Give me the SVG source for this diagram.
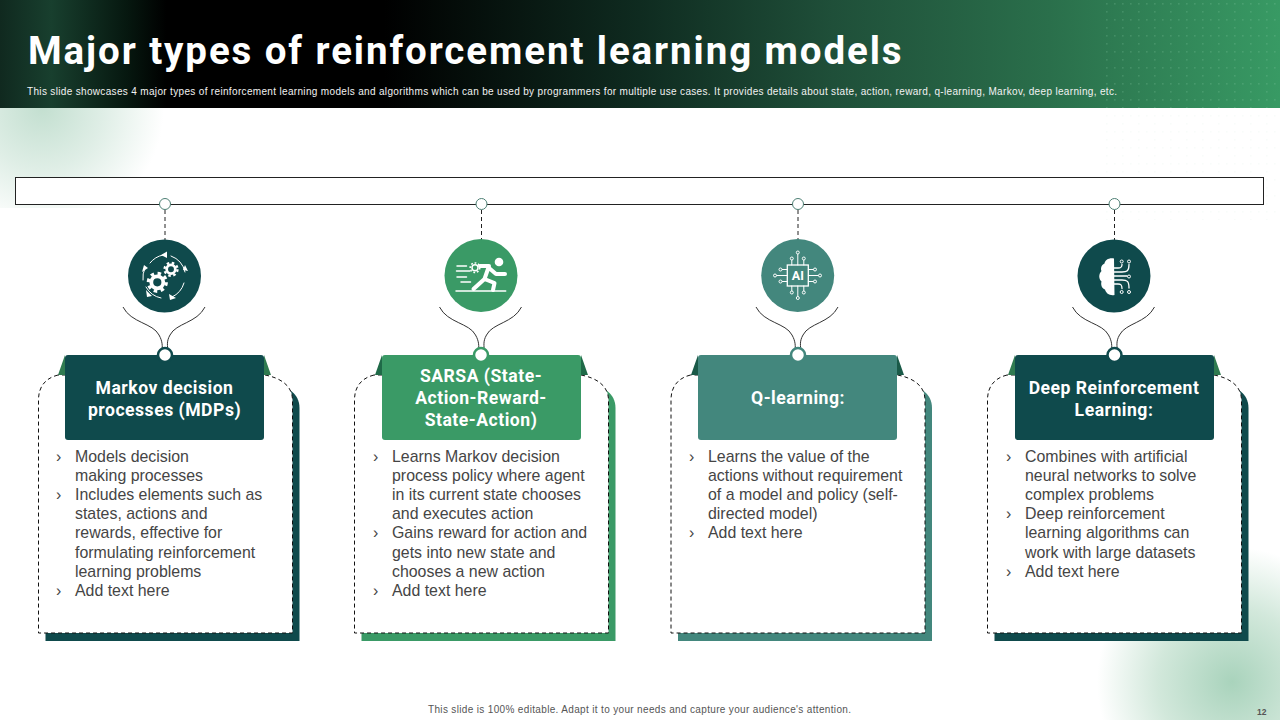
<svg xmlns="http://www.w3.org/2000/svg" xmlns:xlink="http://www.w3.org/1999/xlink" width="1280" height="720" viewBox="0 0 1280 720">
<style>
.ttl{font:700 38.500px Roboto,"Liberation Sans",sans-serif;fill:#fff;letter-spacing:1.9px}
.sub{font:400 10px "Liberation Sans",Arial,sans-serif;fill:#f2f2f2}
.foot{font:400 10px "Liberation Sans",Arial,sans-serif;fill:#555}
.pg{font:700 8.5px "Liberation Sans",Arial,sans-serif;fill:#555}
.hd{font:700 17.6px Roboto,"Liberation Sans",sans-serif;fill:#fff;text-anchor:middle;letter-spacing:.5px}
.b{font:400 15.9px "Liberation Sans",Arial,sans-serif;fill:#454545}
.dash{fill:#fff;stroke:#111;stroke-width:1;stroke-dasharray:4 3}
.vd{stroke:#222;stroke-width:1;stroke-dasharray:4 3;fill:none}
.cv{stroke:#333;stroke-width:1;fill:none}
.top{fill:#fff;stroke:#4d7f74;stroke-width:1}
.ic{fill:none;stroke:#fff;stroke-linecap:round;stroke-linejoin:round}
.wf{fill:#fff}
</style>
<defs>
<linearGradient id="hg" x1="0" x2="1" y1="0" y2="0">
<stop offset="0" stop-color="#10291f"/><stop offset=".04" stop-color="#183f2e"/><stop offset=".1" stop-color="#06170f"/><stop offset=".13" stop-color="#000"/><stop offset=".3" stop-color="#000"/><stop offset=".5" stop-color="#0f2b20"/><stop offset=".65" stop-color="#1f4f39"/><stop offset=".82" stop-color="#2a6f4b"/><stop offset="1" stop-color="#389a64"/>
</linearGradient>
<radialGradient id="gl" gradientUnits="userSpaceOnUse" cx="42" cy="108" r="122"><stop offset="0" stop-color="#c3dfd0"/><stop offset=".5" stop-color="#dfeee6"/><stop offset="1" stop-color="#fff"/></radialGradient>
<radialGradient id="gr" gradientUnits="userSpaceOnUse" cx="1232" cy="682" r="135"><stop offset="0" stop-color="#a9d3bc"/><stop offset=".55" stop-color="#d2e8db"/><stop offset="1" stop-color="#fff"/></radialGradient>
<pattern id="dots" width="16" height="16" patternUnits="userSpaceOnUse"><rect x="2" y="3" width="1.6" height="1.6" fill="#8fd0aa"/><rect x="10" y="3" width="1.6" height="1.6" fill="#8fd0aa"/><rect x="2" y="11" width="1.6" height="1.6" fill="#8fd0aa"/></pattern>
<g id="gearA"><circle r="6" fill="none" stroke="#fff" stroke-width="3.8"/><circle r="9" fill="none" stroke="#fff" stroke-width="3.2" stroke-dasharray="3.5 3.57"/></g>
<path id="card" d="M58 375C46 378 38.500 386 38.500 400V633H292.500V400C292.500 386 281 378 265 375Z"/>
<path id="curves" d="M123 307C131 323 153 323 159 335C163 342 162 346 162.500 351M205 307C197 323 176 323 170 335C166 342 168 346 167.500 351"/>
</defs>

<rect width="1280" height="720" fill="#fff"/>
<rect x="0" y="108" width="170" height="100" fill="url(#gl)"/>
<rect x="1090" y="540" width="190" height="180" fill="url(#gr)"/>
<rect x="1100" y="110" width="180" height="110" fill="url(#dots)" opacity=".06"/>

<g id="banner">
<rect width="1280" height="108" fill="url(#hg)"/>
<rect x="1100" y="0" width="180" height="108" fill="url(#dots)" opacity=".22"/>
<text class="ttl" x="28" y="64">Major types of reinforcement learning models</text>
<text class="sub" x="27" y="95" textLength="1090" lengthAdjust="spacing">This slide showcases 4 major types of reinforcement learning models and algorithms which can be used by programmers for multiple use cases. It provides details about state, action, reward, q-learning, Markov, deep learning, etc.</text>
</g>

<g id="bar"><rect x="15.500" y="177.500" width="1248" height="27" fill="#fff" stroke="#222" stroke-width="1"/></g>

<g id="connectors">
<path class="vd" d="M165 210V240M481.500 210V240M798 210V240M1114.500 210V240"/>
<use href="#curves" class="cv"/>
<use href="#curves" class="cv" x="316.500"/>
<use href="#curves" class="cv" x="633"/>
<use href="#curves" class="cv" x="949.500"/>
</g>

<g id="node-mdp">
<circle class="top" cx="165" cy="204" r="5.500"/>
<use href="#card" x="7" y="8" fill="#0f4a4c"/>
<use href="#card" class="dash"/>
<path d="M65 355L58 375H65Z" fill="#2f7a50"/><path d="M264 355L271 375H264Z" fill="#2f7a50"/>
<rect x="65" y="355" width="199" height="85" rx="3" fill="#0f4a4c"/>
<circle cx="165" cy="355" r="7" fill="#fff" stroke="#0f4a4c" stroke-width="2.500"/>
<circle cx="164.500" cy="276" r="36.500" fill="#0f4a4c"/>
<g>
<use href="#gearA" transform="translate(157.300 282.300)"/>
<use href="#gearA" transform="translate(171 269.300) scale(.72)"/>
<path class="ic" stroke-width="1" d="M150 263A22 22 0 0 1 163 255M171 256A22 22 0 0 1 185 272M184 283A22 22 0 0 1 172 297M161 298A22 22 0 0 1 146 287M143 280A22 22 0 0 1 145 268"/>
<path class="wf" d="M161 255L167 251.500V258ZM183 270L188 271 185 265ZM169 294L176 298 170 300ZM146 290L152 296 147 297ZM142 272L148 268 144 265Z"/>
</g>
<text class="hd" x="164.500" y="393.500">Markov decision</text>
<text class="hd" x="164.500" y="415.500">processes (MDPs)</text>
<text class="b" x="56" y="462">›</text><text class="b" x="75" y="462">Models decision</text>
<text class="b" x="75" y="481">making processes</text>
<text class="b" x="56" y="500">›</text><text class="b" x="75" y="500">Includes elements such as</text>
<text class="b" x="75" y="519">states, actions and</text>
<text class="b" x="75" y="538">rewards, effective for</text>
<text class="b" x="75" y="558">formulating reinforcement</text>
<text class="b" x="75" y="577">learning problems</text>
<text class="b" x="56" y="596">›</text><text class="b" x="75" y="596">Add text here</text>
</g>

<g id="node-sarsa">
<circle class="top" cx="481.500" cy="204" r="5.500"/>
<g transform="translate(316 0)"><use href="#card" x="7" y="8" fill="#3a9a66"/><use href="#card" class="dash"/></g>
<path d="M382 355L375 375H382Z" fill="#1f6a48"/><path d="M581 355L588 375H581Z" fill="#1f6a48"/>
<rect x="382" y="355" width="199" height="85" rx="3" fill="#3a9a66"/>
<circle cx="481" cy="355" r="7" fill="#fff" stroke="#3a9a66" stroke-width="2.500"/>
<circle cx="481" cy="275.500" r="36.500" fill="#3a9a66"/>
<g>
<circle class="wf" cx="499" cy="262" r="4.300"/>
<path class="ic" stroke-width="1.500" d="M456 291H505.700M457 266H466.500M456.500 271H470M457 277H466.500M461 282H470.500"/>
<circle cx="475" cy="267.700" r="3" fill="none" stroke="#fff" stroke-width="1.500"/><circle cx="475" cy="267.700" r="4.800" fill="none" stroke="#fff" stroke-width="1.500" stroke-dasharray="1.800 1.800"/>
<path class="ic" stroke-width="4" d="M480 266H489L484.500 279L473.500 289M489 268L496 274H505M484.500 279L494.500 283L493 290"/>
</g>
<text class="hd" x="481" y="381.500">SARSA (State-</text>
<text class="hd" x="481" y="403.500">Action-Reward-</text>
<text class="hd" x="481" y="425.500">State-Action)</text>
<text class="b" x="373" y="462">›</text><text class="b" x="392" y="462">Learns Markov decision</text>
<text class="b" x="392" y="481">process policy where agent</text>
<text class="b" x="392" y="500">in its current state chooses</text>
<text class="b" x="392" y="519">and executes action</text>
<text class="b" x="373" y="538">›</text><text class="b" x="392" y="538">Gains reward for action and</text>
<text class="b" x="392" y="558">gets into new state and</text>
<text class="b" x="392" y="577">chooses a new action</text>
<text class="b" x="373" y="596">›</text><text class="b" x="392" y="596">Add text here</text>
</g>

<g id="node-q">
<circle class="top" cx="798" cy="204" r="5.500"/>
<g transform="translate(632.500 0)"><use href="#card" x="7" y="8" fill="#43877d"/><use href="#card" class="dash"/></g>
<path d="M698 355L691 375H698Z" fill="#1a5a48"/><path d="M897 355L904 375H897Z" fill="#1a5a48"/>
<rect x="698" y="355" width="199" height="85" rx="3" fill="#43877d"/>
<circle cx="798" cy="355" r="7" fill="#fff" stroke="#43877d" stroke-width="2.500"/>
<circle cx="797.700" cy="275.500" r="36.500" fill="#43877d"/>
<g>
<rect x="787.300" y="265" width="21" height="21" fill="none" stroke="#fff" stroke-width="1.300"/>
<path class="ic" stroke-width="1" d="M797.800 265V254M791.800 265V260L791.500 259M803.800 265V260M797.800 286V297M791.800 286V291M803.800 286V291M787.300 275.500H776M787.300 269.500H782M787.300 281.500H782M808.300 275.500H819M808.300 269.500H814M808.300 281.500H814"/>
<g fill="#43877d" stroke="#fff" stroke-width="1"><circle cx="797.800" cy="252.500" r="1.500"/><circle cx="791.800" cy="258.500" r="1.500"/><circle cx="803.800" cy="258.500" r="1.500"/><circle cx="797.800" cy="298" r="1.500"/><circle cx="791.800" cy="292.500" r="1.500"/><circle cx="803.800" cy="292.500" r="1.500"/><circle cx="775" cy="275.500" r="1.500"/><circle cx="780.500" cy="269.500" r="1.500"/><circle cx="780.500" cy="281.500" r="1.500"/><circle cx="820" cy="275.500" r="1.500"/><circle cx="815" cy="269.500" r="1.500"/><circle cx="815" cy="281.500" r="1.500"/></g>
<text x="797.800" y="280" font-family="Roboto,'Liberation Sans',sans-serif" font-weight="700" font-size="12.500" fill="#fff" text-anchor="middle">AI</text>
</g>
<text class="hd" x="798" y="403.500">Q-learning:</text>
<text class="b" x="689" y="462">›</text><text class="b" x="708" y="462">Learns the value of the</text>
<text class="b" x="708" y="481">actions without requirement</text>
<text class="b" x="708" y="500">of a model and policy (self-</text>
<text class="b" x="708" y="519">directed model)</text>
<text class="b" x="689" y="538">›</text><text class="b" x="708" y="538">Add text here</text>
</g>

<g id="node-deep">
<circle class="top" cx="1114.500" cy="204" r="5.500"/>
<g transform="translate(949 0)"><use href="#card" x="7" y="8" fill="#0f4a4c"/><use href="#card" class="dash"/></g>
<path d="M1015 355L1008 375H1015Z" fill="#2f7a50"/><path d="M1214 355L1221 375H1214Z" fill="#2f7a50"/>
<rect x="1015" y="355" width="199" height="85" rx="3" fill="#0f4a4c"/>
<circle cx="1114.500" cy="355" r="7" fill="#fff" stroke="#0f4a4c" stroke-width="2.500"/>
<circle cx="1114" cy="276" r="36.500" fill="#0f4a4c"/>
<g>
<path class="wf" d="M1114 258.500C1109 257.500 1105 260 1104.500 263.500C1101 265 1100.500 269 1101.500 271C1098.500 274 1098.500 279 1101.500 281.500C1100.500 285 1102 288.500 1105 289.500C1106 293.500 1110 296 1114.500 295Z"/>
<path class="ic" stroke="#cfe6e0" stroke-width="1.300" d="M1111 268H1118C1120 268 1122 268 1122 264.500M1111 272H1122C1127 272 1129 271 1129 264.500M1111 276H1127M1111 280H1122C1127 280 1129 281 1129 288M1111 284H1118C1120 284 1122 284 1122 288.500"/>
<g fill="none" stroke="#fff" stroke-width="1"><circle cx="1121.700" cy="261.500" r="1.500"/><circle cx="1129" cy="261.500" r="1.500"/><circle cx="1129" cy="276.500" r="1.500"/><circle cx="1121.700" cy="292" r="1.500"/><circle cx="1129" cy="292" r="1.500"/></g>
</g>
<text class="hd" x="1114" y="393.500">Deep Reinforcement</text>
<text class="hd" x="1114" y="415.500">Learning:</text>
<text class="b" x="1006" y="462">›</text><text class="b" x="1025" y="462">Combines with artificial</text>
<text class="b" x="1025" y="481">neural networks to solve</text>
<text class="b" x="1025" y="500">complex problems</text>
<text class="b" x="1006" y="519">›</text><text class="b" x="1025" y="519">Deep reinforcement</text>
<text class="b" x="1025" y="538">learning algorithms can</text>
<text class="b" x="1025" y="558">work with large datasets</text>
<text class="b" x="1006" y="577">›</text><text class="b" x="1025" y="577">Add text here</text>
</g>

<g id="footer">
<text class="foot" x="428" y="713" textLength="423" lengthAdjust="spacing">This slide is 100% editable. Adapt it to your needs and capture your audience's attention.</text>
<text class="pg" x="1257" y="715">12</text>
</g>
</svg>
